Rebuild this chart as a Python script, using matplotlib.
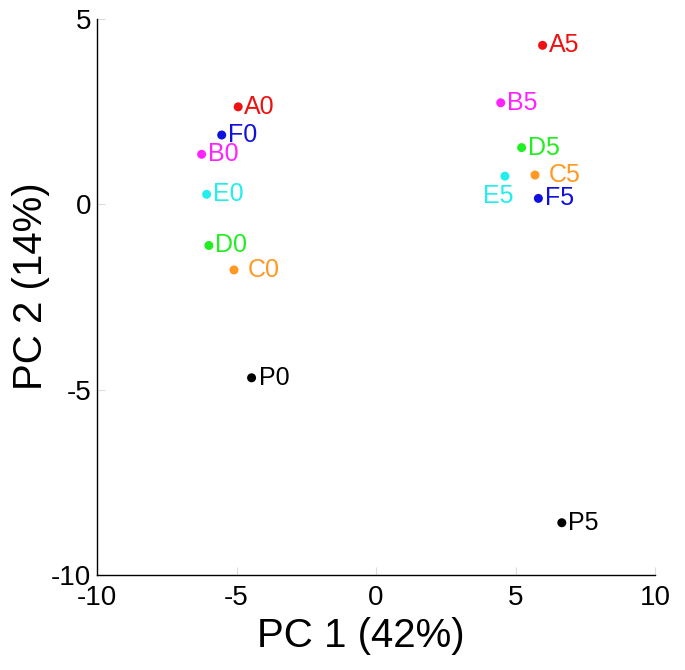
import matplotlib
matplotlib.use("Agg")
import matplotlib.pyplot as plt

plt.rcParams['font.family'] = ['Liberation Sans', 'DejaVu Sans']

labels = ["A0", "F0", "B0", "E0", "D0", "C0", "P0",
          "A5", "B5", "D5", "C5", "E5", "F5", "P5"]
pc1 = [-4.94, -5.53, -6.25, -6.07, -5.99, -5.09, -4.46,
       5.97, 4.47, 5.22, 5.70, 4.62, 5.82, 6.66]
pc2 = [2.63, 1.87, 1.35, 0.27, -1.11, -1.77, -4.68,
       4.29, 2.74, 1.53, 0.79, 0.76, 0.16, -8.59]
groups = ["A", "F", "B", "E", "D", "C", "P",
          "A", "B", "D", "C", "E", "F", "P"]
group_colors = {"A": "#ee1111", "B": "#ff22ff", "C": "#ff9922",
                "D": "#22ee22", "E": "#22eeee", "F": "#1111dd", "P": "#000000"}
xticks = [-10, -5, 0, 5, 10]
yticks = [-10, -5, 0, 5]

# label placement (style)
default_off = (4.5, 0, "left")
special_off = {"C0": (10, 0, "left"), "C5": (10, 0, "left"),
               "P0": (5, 0, "left"), "E5": (6, -14.5, "right")}

fig = plt.figure(figsize=(6.85, 6.7), dpi=100)
ax = fig.add_axes([97/685, 1 - 575/670, 558/685, 556/670])

colors = [group_colors[g] for g in groups]
ax.scatter(pc1, pc2, s=42, c=colors, edgecolors='none', zorder=3)

for lab, x, y, col in zip(labels, pc1, pc2, colors):
    dx, dy, ha = special_off.get(lab, default_off)
    ax.annotate(lab, (x, y), xytext=(dx, dy), textcoords='offset points',
                ha=ha, va='center', color=col, fontsize=18)

ax.set_xlim(-10, 10)
ax.set_ylim(-10, 5)
ax.set_xticks(xticks)
ax.set_yticks(yticks)
ax.set_xticklabels([str(t) for t in xticks])
ax.set_yticklabels([str(t) for t in yticks])
ax.tick_params(direction='in', length=6, width=0.8, color='#dddddd',
               labelsize=20)
ax.tick_params(axis='x', pad=7)
ax.tick_params(axis='y', pad=4)
for side in ['top', 'right']:
    ax.spines[side].set_visible(False)
for side in ['left', 'bottom']:
    ax.spines[side].set_linewidth(1.0)
    ax.spines[side].set_color('black')

ax.set_xlabel("PC 1 (42%)", fontsize=29)
ax.set_ylabel("PC 2 (14%)", fontsize=29)
ax.xaxis.set_label_coords(0.473, -0.075)
ax.xaxis.label.set_va('top')
ax.yaxis.set_label_coords(-0.084, 0.52)

fig.savefig("out.png", dpi=100)
